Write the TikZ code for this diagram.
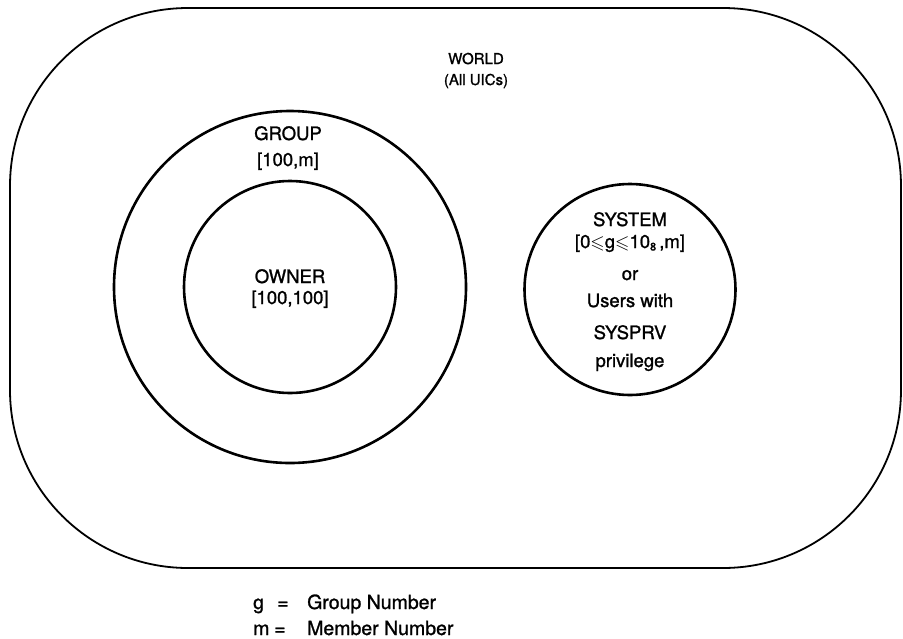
\documentclass[tikz,border=0pt]{standalone}
\usepackage{amsmath}
\usepackage{amssymb}
\usepackage{fontspec}
\setmainfont{TeX Gyre Heros}[FakeBold=1.2]
\newcommand{\subeight}{\raisebox{-2.5pt}{\fontsize{11}{11}\selectfont 8}}
\begin{document}
\begin{tikzpicture}[x=1pt,y=-1pt,
  ring/.style={circle, draw, line width=2.6pt, inner sep=0pt},
  lbl/.style={inner sep=0pt, anchor=base, font=\fontsize{18.5}{21}\selectfont},
  wlbl/.style={inner sep=0pt, anchor=base, font=\fontsize{15}{17}\selectfont},
  leg/.style={inner sep=0pt, anchor=base west, font=\fontsize{19.5}{22}\selectfont}]
\useasboundingbox (0,0) rectangle (903,638);
% world
\draw[line width=1.8pt, rounded corners=178pt] (10,8) rectangle (901,568);
% circles
\node[ring, minimum size=352pt] (group) at (290,287) {};
\node[ring, minimum size=212pt] (owner) at (290,287) {};
\node[ring, minimum size=211pt] (system) at (630,289.5) {};
% world text
\node[wlbl] (world) at (476,64) {WORLD};
\node[wlbl] (uics) at (476,85) {(All UICs)};
% group text
\node[lbl] (grp) at (288,140) {GROUP};
\node[lbl] (grpid) at (288,166) {[100,m]};
% owner
\node[lbl] (own) at (290,283) {OWNER};
\node[lbl] (ownid) at (290,304) {[100,100]};
% system
\node[lbl] (sys) at (630,226) {SYSTEM};
\node[lbl] (sysid) at (630,248) {[0$\boldsymbol{\leqslant}$g$\boldsymbol{\leqslant}$10\subeight\,,m]};
\node[lbl] (sysor) at (630,280) {or};
\node[lbl] (sysu) at (630,307) {Users with};
\node[lbl] (sysp) at (630,339) {SYSPRV};
\node[lbl] (syspr) at (630,367) {privilege};
% legend
\node[leg] (lg) at (253,609) {g};
\node[leg] (leq1) at (277,609) {=};
\node[leg] (lgt) at (307,609) {Group Number};
\node[leg] (lm) at (253,635) {m};
\node[leg] (leq2) at (274,635) {=};
\node[leg] (lmt) at (307,635) {Member Number};
\end{tikzpicture}
\end{document}
